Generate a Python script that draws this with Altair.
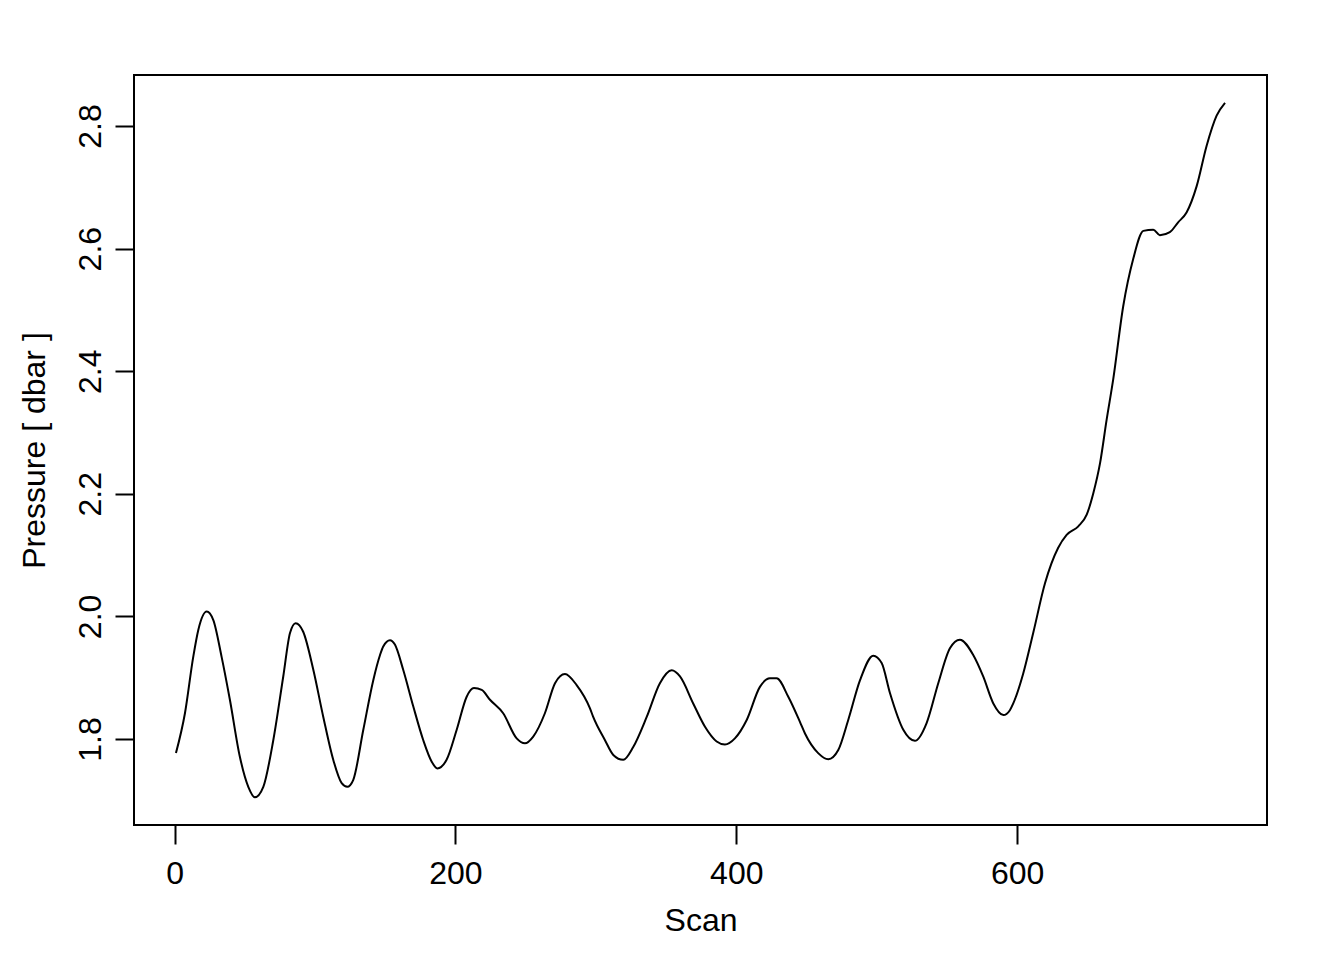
import altair as alt
import pandas as pd

# Scan index and pressure values
scan = [
    1.0, 7.4, 13.3, 16.9, 22.9, 27.6, 33.5, 39.4, 46.5, 52.5, 57.2, 63.2, 70.3,
    77.4, 82.2, 86.2, 91.6, 98.8, 105.9, 113.0, 119.0, 123.0, 127.2, 134.4, 141.5, 146.3,
    148.6, 153.4, 156.9, 162.8, 170.0, 177.1, 183.1, 187.1, 193.7, 200.9, 208.0, 213.2,
    218.7, 224.6, 234.0, 243.6, 249.5, 255.4, 263.7, 270.9, 278.0, 286.3, 295.8,
    298.1, 306.5, 312.4, 319.5, 326.6, 336.2, 345.6, 354.0, 359.9, 369.3, 377.7, 386.0,
    391.9, 399.0, 407.4, 416.8, 423.9, 428.7, 437.0, 445.3,
    448.9, 458.3, 465.5, 472.6, 479.7, 488.1, 497.5, 503.5, 509.4, 518.9, 527.2, 535.5,
    543.8, 552.1, 559.2, 568.7, 575.8, 583.0, 590.2, 594.8,
    597.2, 604.3, 611.4, 619.8, 629.2, 635.2, 643.5, 649.5, 654.2, 659.0, 663.7,
    668.4, 675.5, 682.6, 689.8, 696.9, 701.6, 708.7, 714.6, 720.6, 727.8, 734.9, 742.0, 748.0,
]
pressure = [
    1.777, 1.842, 1.934, 1.978, 2.008, 1.994, 1.934, 1.864, 1.771, 1.722, 1.705, 1.722, 1.798,
    1.902, 1.973, 1.989, 1.975, 1.913, 1.836, 1.766, 1.728, 1.722, 1.733, 1.815, 1.896, 1.937,
    1.951, 1.961, 1.954, 1.913, 1.853, 1.798, 1.763, 1.752, 1.766, 1.815, 1.869, 1.883,
    1.880, 1.864, 1.842, 1.801, 1.793, 1.804, 1.842, 1.891, 1.906, 1.888, 1.850,
    1.836, 1.798, 1.774, 1.766, 1.787, 1.836, 1.891, 1.912, 1.902, 1.858, 1.820, 1.796,
    1.791, 1.801, 1.831, 1.885, 1.899, 1.899, 1.869, 1.828,
    1.809, 1.777, 1.767, 1.782, 1.831, 1.896, 1.936, 1.924, 1.875, 1.815, 1.797, 1.826,
    1.891, 1.948, 1.962, 1.937, 1.902, 1.858, 1.839, 1.847,
    1.858, 1.907, 1.973, 2.054, 2.112, 2.133, 2.147, 2.166, 2.201, 2.250, 2.321,
    2.387, 2.506, 2.583, 2.629, 2.631, 2.622, 2.627, 2.643, 2.659, 2.702, 2.768, 2.817, 2.838,
]
x_ticks = [0, 200, 400, 600]
y_ticks = [1.8, 2.0, 2.2, 2.4, 2.6, 2.8]

df = pd.DataFrame({"Scan": scan, "Pressure": pressure})

FONT = "Liberation Sans"
FS = 32

x_min, x_max = min(scan), max(scan)
y_min, y_max = min(pressure), max(pressure)
xe = 0.04 * (x_max - x_min)
ye = 0.04 * (y_max - y_min)

chart = alt.Chart(df).mark_line(
    color="black", strokeWidth=2, interpolate="monotone"
).encode(
    x=alt.X(
        "Scan:Q",
        scale=alt.Scale(domain=[x_min - xe, x_max + xe], nice=False, zero=False),
        axis=alt.Axis(
            values=x_ticks, format="d", title="Scan", grid=False, domain=False,
            tickSize=19, tickWidth=2, tickColor="black",
            labelFont=FONT, labelFontSize=FS, labelColor="black",
            labelBaseline="alphabetic", labelPadding=39, labelFlush=False,
            titleFont=FONT, titleFontSize=FS, titleFontWeight="normal", titleColor="black",
            titleBaseline="alphabetic", titleY=105, titleAnchor="middle",
        ),
    ),
    y=alt.Y(
        "Pressure:Q",
        scale=alt.Scale(domain=[y_min - ye, y_max + ye], nice=False, zero=False),
        axis=alt.Axis(
            values=y_ticks, format=".1f", title="Pressure [ dbar ]", grid=False, domain=False,
            tickSize=19, tickWidth=2, tickColor="black",
            labelFont=FONT, labelFontSize=FS, labelColor="black",
            labelAngle=-90, labelAlign="center", labelBaseline="alphabetic",
            labelPadding=15, labelFlush=False,
            titleFont=FONT, titleFontSize=FS, titleFontWeight="normal", titleColor="black",
            titleAngle=-90, titleAlign="center", titleBaseline="alphabetic",
            titleX=-90, titleY=375,
        ),
    ),
).properties(
    width=1133,
    height=750,
    autosize=alt.AutoSizeParams(type="none"),
    padding={"left": 126, "top": 67, "right": 60, "bottom": 120},
    background="white",
).configure_view(
    stroke="black", strokeWidth=2, fill="white"
)

chart.save("out.html", embed_options={"renderer": "svg", "actions": False})
